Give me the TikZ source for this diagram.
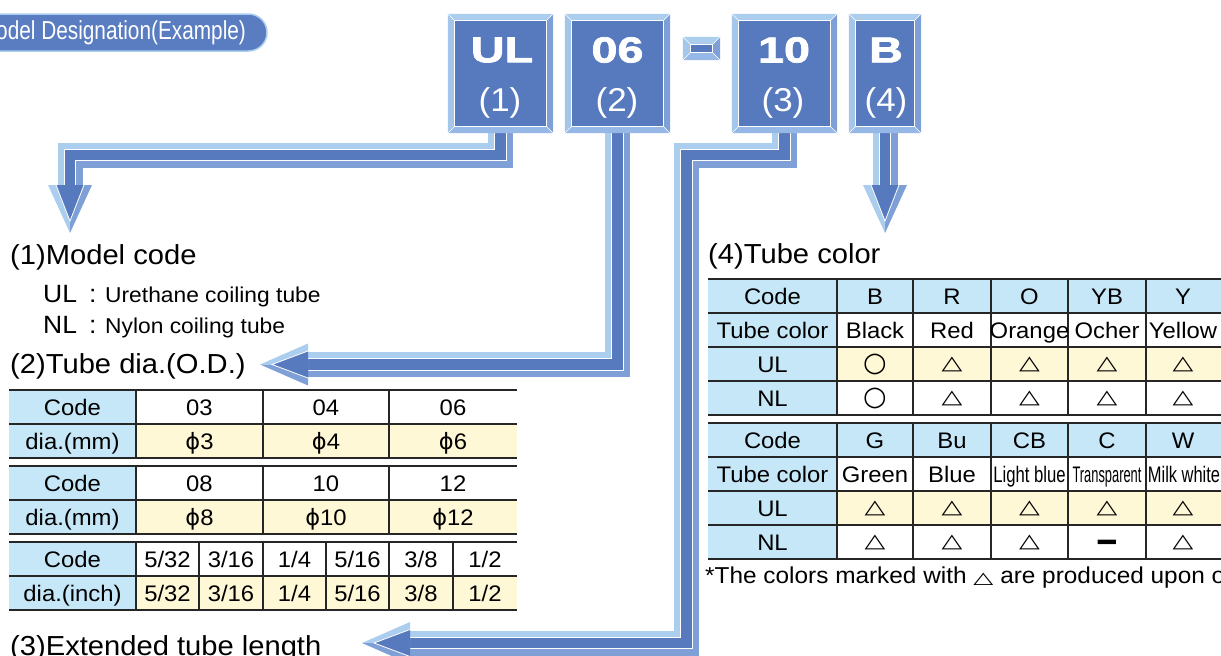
\documentclass[tikz,border=0pt]{standalone}
\usepackage{fontspec}
\usepackage{graphicx}
\usetikzlibrary{calc}
\setmainfont{Liberation Sans}
\newfontfamily\wf{Liberation Sans}[FakeStretch=1.06]
\newfontfamily\nf{Liberation Sans}[FakeStretch=0.8]
\newfontfamily\boxf{Liberation Sans Bold}[FakeStretch=1.3,FakeBold=2]
\newfontfamily\symf{DejaVu Sans}
\newcommand\fsz[1]{\fontsize{#1}{#1}\selectfont}
\definecolor{db}{HTML}{5779BE}
\definecolor{lb}{HTML}{ABCDEE}
\definecolor{mb}{HTML}{7FA0D6}
\definecolor{bb}{HTML}{96B8E6}
\definecolor{hb}{HTML}{C6E7F7}
\definecolor{cr}{HTML}{FFF8D6}
\definecolor{tc}{HTML}{5A7CC0}
\tikzset{
  txt/.style={inner sep=0pt, font=\wf\fsz{22.5}, text=black},
  hd/.style={inner sep=0pt, anchor=base west, font=\wf\fsz{27.5}},
  body/.style={inner sep=0pt, anchor=base west, font=\wf\fsz{25}},
  desc/.style={inner sep=0pt, anchor=base west, font=\wf\fsz{21.5}},
  tl/.style={line width=1.2pt, draw=black!85},
  sym/.style={inner sep=0pt, font=\symf\fsz{27}},
  boxtxt/.style={inner sep=0pt, text=white, font=\boxf\fsz{36}},
  numtxt/.style={inner sep=0pt, text=white, font=\wf\fsz{33}},
  boxnode/.style={inner sep=0pt, minimum width=#1, minimum height=119pt},
}
\newcommand\ct[4]{\node[txt,anchor=base] (#1) at (#2,{#3+8}) {#4};}
\newcommand\cs[4]{\node[sym] (#1) at (#2,#3) {#4};}
\newcommand\tri{\scalebox{1}[0.72]{△}}
\newcommand\cir{○}
\newcommand\phis{{\symf ϕ}}
% 3D band along a path
\newcommand\stem[1]{%
  \draw[lb,line width=25pt] #1;
  \begin{scope}[transform canvas={xshift=3.5pt,yshift=-3.5pt}]
    \draw[mb,line width=18pt] #1;
  \end{scope}
  \draw[white,line width=12.6pt] #1;
  \draw[db,line width=10.6pt] #1;}
\newcommand\hdown[1]{%
  \fill[lb] ($(#1)+(-22,0)$) -- (#1) -- ($(#1)+(0,48)$) -- cycle;
  \fill[mb] (#1) -- ($(#1)+(22,0)$) -- ($(#1)+(0,48)$) -- cycle;
  \fill[db] ($(#1)+(-14,0)$) -- ($(#1)+(14,0)$) -- ($(#1)+(0,36)$) -- cycle;
  \draw[white,line width=0.8pt] ($(#1)+(-14,0)$) -- ($(#1)+(0,36)$) -- ($(#1)+(14,0)$);}
\newcommand\hleft[1]{%
  \fill[lb] ($(#1)+(0,-21)$) -- (#1) -- ($(#1)+(-48,0)$) -- cycle;
  \fill[mb] (#1) -- ($(#1)+(0,21)$) -- ($(#1)+(-48,0)$) -- cycle;
  \fill[db] ($(#1)+(0,-13.5)$) -- ($(#1)+(0,13.5)$) -- ($(#1)+(-36,0)$) -- cycle;
  \draw[white,line width=0.8pt] ($(#1)+(0,-13.5)$) -- ($(#1)+(-36,0)$) -- ($(#1)+(0,13.5)$);}
\newcommand\bevel[2]{%
  \fill[lb] (#1.north west) -- (#1.north east) -- ($(#1.north east)+(-#2,#2)$) -- ($(#1.north west)+(#2,#2)$) -- cycle;
  \fill[lb!92!db] (#1.north west) -- ($(#1.north west)+(#2,#2)$) -- ($(#1.south west)+(#2,-#2)$) -- (#1.south west) -- cycle;
  \fill[mb] (#1.north east) -- (#1.south east) -- ($(#1.south east)+(-#2,-#2)$) -- ($(#1.north east)+(-#2,#2)$) -- cycle;
  \fill[bb] (#1.south west) -- (#1.south east) -- ($(#1.south east)+(-#2,-#2)$) -- ($(#1.south west)+(#2,-#2)$) -- cycle;
  \filldraw[db,draw=white,line width=0.8pt] ($(#1.north west)+(#2,#2)$) rectangle ($(#1.south east)+(-#2,-#2)$);
  \draw[white,line width=0.6pt] (#1.north west) -- ++(#2,#2) (#1.north east) -- ++(-#2,#2)
     (#1.south west) -- ++(#2,-#2) (#1.south east) -- ++(-#2,-#2);}
\begin{document}
\begin{tikzpicture}[x=1pt,y=-1pt]
\useasboundingbox (0,0) rectangle (1221,656);
% ---------- code boxes (positions) ----------
\node[boxnode=105pt] (bUL) at (500.5,73.5) {};
\node[boxnode=105pt] (b06) at (617.5,73.5) {};
\node[boxnode=105pt] (b10) at (784.5,73.5) {};
\node[boxnode=72pt]  (bB)  at (885,73.5) {};
\node[inner sep=0pt, minimum width=37pt, minimum height=23pt] (dash) at (701.5,48.5) {};
% ---------- arrow coordinates ----------
\coordinate (k1) at (70,155);
\coordinate (h1) at (70,185);
\coordinate (h2) at (308,364.5);
\coordinate (k3) at (686.5,155);
\coordinate (h3) at (410,643);
\coordinate (h4) at (885,185);
% ---------- arrow bands ----------
\stem{($(bUL.south)+(0,-10)$) |- (k1) -- (h1) -- ++(0,5)}
\stem{($(b06.south)+(0,-10)$) |- (h2) -- ++(-5,0)}
\stem{($(b10.south)+(0,-10)$) |- (k3) |- (h3) -- ++(-5,0)}
\stem{($(bB.south)+(0,-10)$) -- (h4) -- ++(0,5)}
\hdown{h1}
\hleft{h2}
\hleft{h3}
\hdown{h4}
% ---------- boxes ----------
\bevel{bUL}{7}
\bevel{b06}{7}
\bevel{b10}{7}
\bevel{bB}{7}
\bevel{dash}{7.5}
\node[boxtxt] (tUL) at (502,50) {UL};
\node[boxtxt] (t06) at (617.5,50) {06};
\node[boxtxt] (t10) at (784,50) {10};
\node[boxtxt] (tB)  at (886,50) {B};
\node[numtxt] (n1) at (500,103) {(1)};
\node[numtxt] (n2) at (617,103) {(2)};
\node[numtxt] (n3) at (783,103) {(3)};
\node[numtxt] (n4) at (886,103) {(4)};
% ---------- title ----------
\filldraw[fill=tc, draw=lb, line width=1.5pt, rounded corners=18.5pt] (-40,14) rectangle (267,51);
\node[inner sep=0pt, anchor=west, text=white, font=\nf\fsz{26}] (title) at (-4,33) {odel Designation(Example)};
% ---------- (1) ----------
\node[hd] (s1) at (10,264) {(1)Model code};
\node[body] (ul) at (43,302) {UL};
\node[body] (ulc) at (89,302) {:};
\node[desc] (uld) at (105,302) {Urethane coiling tube};
\node[body] (nl) at (43,333) {NL};
\node[body] (nlc) at (89,333) {:};
\node[desc] (nld) at (105,333) {Nylon coiling tube};
% ---------- (2) ----------
\node[hd] (s2) at (10,373) {(2)Tube dia.(O.D.)};
% table A
\fill[hb] (9,390) rectangle (136,458);
\fill[cr] (136,424) rectangle (517,458);
\draw[tl] (9,390) -- (517,390) (9,424) -- (517,424) (9,458) -- (517,458);
\draw[tl] (136,390) -- (136,458) (263,390) -- (263,458) (389,390) -- (389,458);
\ct{a1}{72.5}{407}{Code}
\ct{a2}{199.5}{407}{03}
\ct{a3}{326}{407}{04}
\ct{a4}{453}{407}{06}
\ct{a5}{72.5}{441}{dia.(mm)}
\ct{a6}{199.5}{441}{\phis3}
\ct{a7}{326}{441}{\phis4}
\ct{a8}{453}{441}{\phis6}
% table B
\fill[hb] (9,466) rectangle (136,534);
\fill[cr] (136,500) rectangle (517,534);
\draw[tl] (9,466) -- (517,466) (9,500) -- (517,500) (9,534) -- (517,534);
\draw[tl] (136,466) -- (136,534) (263,466) -- (263,534) (389,466) -- (389,534);
\ct{b1}{72.5}{483}{Code}
\ct{b2}{199.5}{483}{08}
\ct{b3}{326}{483}{10}
\ct{b4}{453}{483}{12}
\ct{b5}{72.5}{517}{dia.(mm)}
\ct{b6}{199.5}{517}{\phis8}
\ct{b7}{326}{517}{\phis10}
\ct{b8}{453}{517}{\phis12}
% table C
\fill[hb] (9,542) rectangle (136,610);
\fill[cr] (136,576) rectangle (517,610);
\draw[tl] (9,542) -- (517,542) (9,576) -- (517,576) (9,610) -- (517,610);
\foreach \x in {136,199,263,326,389,453} \draw[tl] (\x,542) -- (\x,610);
\ct{c1}{72.5}{559}{Code}
\ct{c9}{72.5}{593}{dia.(inch)}
\foreach \p/\q/\x [count=\i] in {5/32/167.5, 3/16/231, 1/4/294.5, 5/16/357.5, 3/8/421, 1/2/485} {
  \node[txt,anchor=base] (cu\i) at (\x,567) {\p/\q};
  \node[txt,anchor=base] (cl\i) at (\x,601) {\p/\q};
}
% ---------- (3) ----------
\node[hd] (s3) at (10,655) {(3)Extended tube length};
% ---------- (4) ----------
\node[hd] (s4) at (708,263) {(4)Tube color};
% table D
\fill[hb] (708,279) rectangle (1221,313);
\fill[hb] (708,313) rectangle (837,415);
\fill[cr] (837,347) rectangle (1221,381);
\draw[tl] (708,279) -- (1221,279) (708,313) -- (1221,313) (708,347) -- (1221,347) (708,381) -- (1221,381) (708,415) -- (1221,415);
\foreach \x in {837,913,991,1068,1146} \draw[tl] (\x,279) -- (\x,415);
\foreach \t/\x [count=\i] in {Code/772.5, B/875, R/952, O/1029.5, YB/1107, Y/1183}
  \node[txt,anchor=base] (da\i) at (\x,304) {\t};
\foreach \t/\x [count=\i] in {{Tube color}/772.5, Black/875, Red/952, Orange/1029.5, Ocher/1107, Yellow/1183}
  \node[txt,anchor=base] (db\i) at (\x,338) {\t};
\ct{dc1}{772.5}{364}{UL}
\ct{dd1}{772.5}{398}{NL}
\cs{dc2}{875}{364}{\cir}
\cs{dd2}{875}{398}{\cir}
\foreach \x [count=\i from 3] in {952,1029.5,1107,1183} {
  \node[sym] (dc\i) at (\x,364) {\tri};
  \node[sym] (dd\i) at (\x,398) {\tri};
}
% table E
\fill[hb] (708,423) rectangle (1221,457);
\fill[hb] (708,457) rectangle (837,559);
\fill[cr] (837,491) rectangle (1221,525);
\draw[tl] (708,423) -- (1221,423) (708,457) -- (1221,457) (708,491) -- (1221,491) (708,525) -- (1221,525) (708,559) -- (1221,559);
\foreach \x in {837,913,991,1068,1146} \draw[tl] (\x,423) -- (\x,559);
\foreach \t/\x [count=\i] in {Code/772.5, G/875, Bu/952, CB/1029.5, C/1107, W/1183}
  \node[txt,anchor=base] (ea\i) at (\x,448) {\t};
\ct{eb1}{772.5}{474}{Tube color}
\ct{eb2}{875}{474}{Green}
\ct{eb3}{952}{474}{Blue}
\ct{eb4}{1029.5}{474}{\scalebox{0.7}[1]{Light blue}}
\ct{eb5}{1107}{474}{\scalebox{0.54}[1]{Transparent}}
\ct{eb6}{1184}{474}{\scalebox{0.69}[1]{Milk white}}
\ct{ec1}{772.5}{508}{UL}
\ct{ed1}{772.5}{542}{NL}
\foreach \x [count=\i from 2] in {875,952,1029.5,1107,1183}
  \node[sym] (ec\i) at (\x,508) {\tri};
\node[sym] (ed2) at (875,542) {\tri};
\node[sym] (ed3) at (952,542) {\tri};
\node[sym] (ed4) at (1029.5,542) {\tri};
\node[inner sep=0pt, font=\symf\fsz{24}] (ed5) at (1107,543) {\scalebox{1}[0.5]{▬}};
\node[sym] (ed6) at (1183,542) {\tri};
% footnote
\node[inner sep=0pt, anchor=base west, font=\wf\fsz{23}] (fn) at (705,583) {*The colors marked with {\symf\fsz{26}\scalebox{1}[0.62]{△}} are produced upon o};
\end{tikzpicture}
\end{document}
